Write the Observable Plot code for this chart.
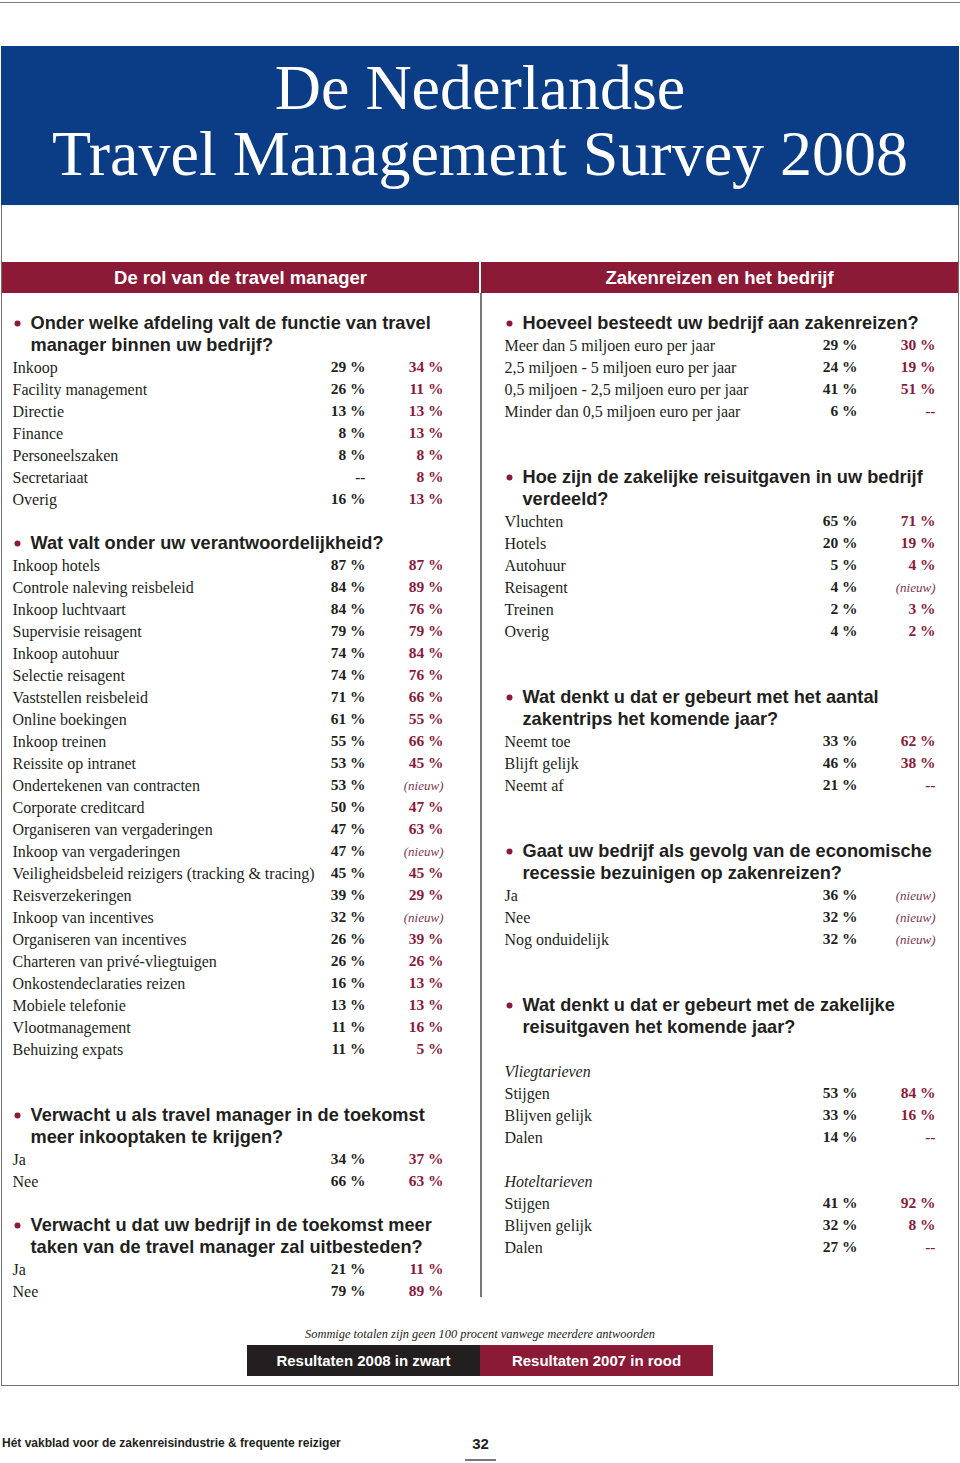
<!DOCTYPE html>
<html lang="nl">
<head>
<meta charset="utf-8">
<script src="https://cdn.jsdelivr.net/npm/d3@7"></script>
<script src="https://cdn.jsdelivr.net/npm/@observablehq/plot@0.6"></script>
<style>
  html, body { margin: 0; padding: 0; background: #fff; }
  #page { position: relative; width: 960px; height: 1463px; overflow: hidden; font-family: "Liberation Sans", Arial, sans-serif; color: #231f20; }
  .abs { position: absolute; }
  #topRule { left: 0; top: 2px; width: 960px; height: 1px; background: #7a7a7a; }
  #frame { left: 1px; top: 46px; width: 958px; height: 1340px; box-sizing: border-box; border: 1.5px solid #707070; }
  #titleBox { left: 1px; top: 46px; width: 958px; height: 159px; background: #0b3d86; }
  #title { left: 0; top: 55px; width: 960px; margin: 0; text-align: center; color: #fff; font-family: "Liberation Serif", "Times New Roman", serif; font-weight: normal; font-size: 64px; line-height: 66px; }
  .bar { top: 262px; height: 31px; line-height: 31px; background: #8b1a36; color: #fff; text-align: center; font-weight: bold; font-size: 18.5px; }
  #divider { left: 480px; top: 293px; width: 1.5px; height: 1004px; background: #777; }
  .panel { top: 293px; width: 480px; height: 1004px; }
  #footnote { left: 0; top: 1326px; width: 960px; text-align: center; font-family: "Liberation Serif", serif; font-style: italic; font-size: 12.4px; line-height: 16px; color: #231f20; }
  .legend { top: 1345px; height: 31px; line-height: 31px; width: 233px; text-align: center; color: #fff; font-weight: bold; font-size: 15px; }
  #footerText { left: 2px; top: 1436px; font-weight: bold; font-size: 12px; line-height: 14px; }
  #pageNum { left: 465px; top: 1436px; width: 31px; text-align: center; font-weight: bold; font-size: 15px; line-height: 16px; }
  #pageRule { left: 465px; top: 1459px; width: 31px; height: 1.5px; background: #777; }
</style>
</head>
<body>
<div id="page">
  <div class="abs" id="topRule"></div>
  <div class="abs" id="frame"></div>
  <div class="abs" id="titleBox"></div>
  <h1 class="abs" id="title"></h1>
  <div class="abs bar" id="barLeft" style="left:2px;width:477px;"></div>
  <div class="abs bar" id="barRight" style="left:481px;width:477px;"></div>
  <div class="abs panel" id="panelLeft" style="left:0;"></div>
  <div class="abs panel" id="panelRight" style="left:480px;"></div>
  <div class="abs" id="divider"></div>
  <div class="abs" id="footnote"></div>
  <div class="abs legend" id="legend08" style="left:247px;background:#231f20;"></div>
  <div class="abs legend" id="legend07" style="left:480px;background:#8b1a36;"></div>
  <div class="abs" id="footerText"></div>
  <div class="abs" id="pageNum"></div>
  <div class="abs" id="pageRule"></div>
</div>
<script>
// ---------- Texts ----------
const titleLines = ["De Nederlandse", "Travel Management Survey 2008"];
const sectionTitles = ["De rol van de travel manager", "Zakenreizen en het bedrijf"];
const footnoteText = "Sommige totalen zijn geen 100 procent vanwege meerdere antwoorden";
const legendLabels = ["Resultaten 2008 in zwart", "Resultaten 2007 in rood"];
const footerText = "Hét vakblad voor de zakenreisindustrie & frequente reiziger";
const pageNumber = "32";

const NEW = "nieuw"; // marker for "(nieuw)"; null means "--"

// ---------- Left column ----------
const q1Question = ["Onder welke afdeling valt de functie van travel", "manager binnen uw bedrijf?"];
const q1Labels = ["Inkoop", "Facility management", "Directie", "Finance", "Personeelszaken", "Secretariaat", "Overig"];
const q1Res2008 = [29, 26, 13, 8, 8, null, 16];
const q1Res2007 = [34, 11, 13, 13, 8, 8, 13];

const q2Question = ["Wat valt onder uw verantwoordelijkheid?"];
const q2Labels = ["Inkoop hotels", "Controle naleving reisbeleid", "Inkoop luchtvaart", "Supervisie reisagent",
  "Inkoop autohuur", "Selectie reisagent", "Vaststellen reisbeleid", "Online boekingen", "Inkoop treinen",
  "Reissite op intranet", "Ondertekenen van contracten", "Corporate creditcard", "Organiseren van vergaderingen",
  "Inkoop van vergaderingen", "Veiligheidsbeleid reizigers (tracking & tracing)", "Reisverzekeringen",
  "Inkoop van incentives", "Organiseren van incentives", "Charteren van privé-vliegtuigen",
  "Onkostendeclaraties reizen", "Mobiele telefonie", "Vlootmanagement", "Behuizing expats"];
const q2Res2008 = [87, 84, 84, 79, 74, 74, 71, 61, 55, 53, 53, 50, 47, 47, 45, 39, 32, 26, 26, 16, 13, 11, 11];
const q2Res2007 = [87, 89, 76, 79, 84, 76, 66, 55, 66, 45, NEW, 47, 63, NEW, 45, 29, NEW, 39, 26, 13, 13, 16, 5];

const q3Question = ["Verwacht u als travel manager in de toekomst", "meer inkooptaken te krijgen?"];
const q3Labels = ["Ja", "Nee"];
const q3Res2008 = [34, 66];
const q3Res2007 = [37, 63];

const q4Question = ["Verwacht u dat uw bedrijf in de toekomst meer", "taken van de travel manager zal uitbesteden?"];
const q4Labels = ["Ja", "Nee"];
const q4Res2008 = [21, 79];
const q4Res2007 = [11, 89];

// ---------- Right column ----------
const q5Question = ["Hoeveel besteedt uw bedrijf aan zakenreizen?"];
const q5Labels = ["Meer dan 5 miljoen euro per jaar", "2,5 miljoen - 5 miljoen euro per jaar",
  "0,5 miljoen - 2,5 miljoen euro per jaar", "Minder dan 0,5 miljoen euro per jaar"];
const q5Res2008 = [29, 24, 41, 6];
const q5Res2007 = [30, 19, 51, null];

const q6Question = ["Hoe zijn de zakelijke reisuitgaven in uw bedrijf", "verdeeld?"];
const q6Labels = ["Vluchten", "Hotels", "Autohuur", "Reisagent", "Treinen", "Overig"];
const q6Res2008 = [65, 20, 5, 4, 2, 4];
const q6Res2007 = [71, 19, 4, NEW, 3, 2];

const q7Question = ["Wat denkt u dat er gebeurt met het aantal", "zakentrips het komende jaar?"];
const q7Labels = ["Neemt toe", "Blijft gelijk", "Neemt af"];
const q7Res2008 = [33, 46, 21];
const q7Res2007 = [62, 38, null];

const q8Question = ["Gaat uw bedrijf als gevolg van de economische", "recessie bezuinigen op zakenreizen?"];
const q8Labels = ["Ja", "Nee", "Nog onduidelijk"];
const q8Res2008 = [36, 32, 32];
const q8Res2007 = [NEW, NEW, NEW];

const q9Question = ["Wat denkt u dat er gebeurt met de zakelijke", "reisuitgaven het komende jaar?"];
const q9SubA = "Vliegtarieven";
const q9ALabels = ["Stijgen", "Blijven gelijk", "Dalen"];
const q9ARes2008 = [53, 33, 14];
const q9ARes2007 = [84, 16, null];
const q9SubB = "Hoteltarieven";
const q9BLabels = ["Stijgen", "Blijven gelijk", "Dalen"];
const q9BRes2008 = [41, 32, 27];
const q9BRes2007 = [92, 8, null];

// ---------- Structure ----------
const leftSections = [
  {question: q1Question, groups: [{labels: q1Labels, r08: q1Res2008, r07: q1Res2007}]},
  {question: q2Question, groups: [{labels: q2Labels, r08: q2Res2008, r07: q2Res2007}]},
  {question: q3Question, groups: [{labels: q3Labels, r08: q3Res2008, r07: q3Res2007}]},
  {question: q4Question, groups: [{labels: q4Labels, r08: q4Res2008, r07: q4Res2007}]}
];
const rightSections = [
  {question: q5Question, groups: [{labels: q5Labels, r08: q5Res2008, r07: q5Res2007}]},
  {question: q6Question, groups: [{labels: q6Labels, r08: q6Res2008, r07: q6Res2007}]},
  {question: q7Question, groups: [{labels: q7Labels, r08: q7Res2008, r07: q7Res2007}]},
  {question: q8Question, groups: [{labels: q8Labels, r08: q8Res2008, r07: q8Res2007}]},
  {question: q9Question, groups: [
    {sub: q9SubA, labels: q9ALabels, r08: q9ARes2008, r07: q9ARes2007},
    {sub: q9SubB, labels: q9BLabels, r08: q9BRes2008, r07: q9BRes2007}
  ]}
];
// blank lines before each section (layout)
const leftGaps = [0, 1, 2, 1];
const rightGaps = [0, 2, 2, 2, 2];

function buildRows(sections, gaps) {
  const rows = [];
  let line = 0;
  sections.forEach((s, si) => {
    line += gaps[si];
    s.question.forEach((t, k) => { rows.push({kind: "q", text: t, line, first: k === 0}); line++; });
    s.groups.forEach(g => {
      if (g.sub) { line += 1; rows.push({kind: "sub", text: g.sub, line}); line++; }
      g.labels.forEach((lab, i) => { rows.push({kind: "item", text: lab, v08: g.r08[i], v07: g.r07[i], line}); line++; });
    });
  });
  return rows;
}

const SERIF = "'Liberation Serif', 'Times New Roman', serif";
const SANS = "'Liberation Sans', Arial, sans-serif";
const RED = "#8b1a3a";
const INK = "#231f20";
const fmt = v => v == null ? "--" : `${v} %`;

function panel(rows, marginLeft, marginRight) {
  const items = rows.filter(r => r.kind === "item");
  const common = {y: "line"};
  return Plot.plot({
    width: 480, height: 1004,
    marginLeft, marginRight, marginTop: 0, marginBottom: 0,
    style: {background: "transparent", overflow: "visible"},
    y: {domain: [0, 44], range: [30, 998], axis: null},
    marks: [
      Plot.dot(rows.filter(r => r.kind === "q" && r.first), {...common, frameAnchor: "left", dx: 5, r: 3, fill: RED, stroke: null}),
      Plot.text(rows.filter(r => r.kind === "q"), {...common, text: "text", frameAnchor: "left", textAnchor: "start", dx: 18,
        fontFamily: SANS, fontWeight: "bold", fontSize: 18.2, fill: INK}),
      Plot.text(rows.filter(r => r.kind === "sub"), {...common, text: "text", frameAnchor: "left", textAnchor: "start",
        fontFamily: SERIF, fontStyle: "italic", fontSize: 16, fill: INK}),
      Plot.text(items, {...common, text: "text", frameAnchor: "left", textAnchor: "start",
        fontFamily: SERIF, fontSize: 16, fill: INK}),
      Plot.text(items, {...common, text: d => fmt(d.v08), frameAnchor: "right", textAnchor: "end", dx: -78,
        fontFamily: SERIF, fontWeight: "bold", fontSize: 15.5, fill: INK}),
      Plot.text(items.filter(d => d.v07 !== NEW), {...common, text: d => fmt(d.v07), frameAnchor: "right", textAnchor: "end",
        fontFamily: SERIF, fontWeight: "bold", fontSize: 15.5, fill: RED}),
      Plot.text(items.filter(d => d.v07 === NEW), {...common, text: d => `(${d.v07})`, frameAnchor: "right", textAnchor: "end",
        fontFamily: SERIF, fontStyle: "italic", fontSize: 13, fill: "#7d3452"})
    ]
  });
}

document.getElementById("title").innerHTML = titleLines.join("<br>");
document.getElementById("barLeft").textContent = sectionTitles[0];
document.getElementById("barRight").textContent = sectionTitles[1];
document.getElementById("footnote").textContent = footnoteText;
document.getElementById("legend08").textContent = legendLabels[0];
document.getElementById("legend07").textContent = legendLabels[1];
document.getElementById("footerText").textContent = footerText;
document.getElementById("pageNum").textContent = pageNumber;

document.getElementById("panelLeft").append(panel(buildRows(leftSections, leftGaps), 12, 37));
document.getElementById("panelRight").append(panel(buildRows(rightSections, rightGaps), 24, 25));
</script>
</body>
</html>
